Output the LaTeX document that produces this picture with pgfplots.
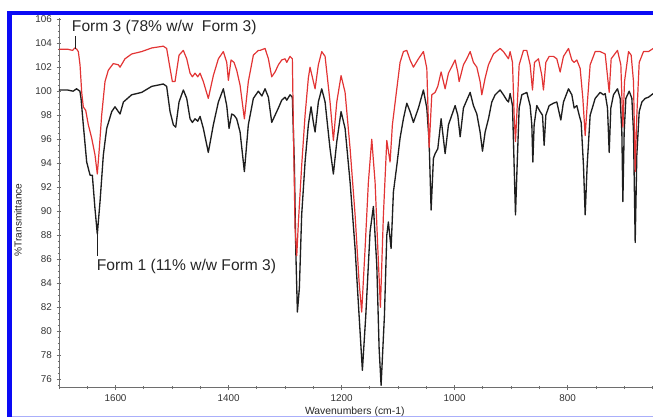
\documentclass[border=0pt]{standalone}
\usepackage{fontspec}
\setmainfont{Liberation Sans}
\usepackage{pgfplots}
\pgfplotsset{compat=1.18}
\usepackage{pgfplotstable}

\definecolor{specblack}{RGB}{30,30,30}
\definecolor{specred}{RGB}{226,52,52}
\definecolor{axisgray}{RGB}{110,110,110}
\definecolor{framblue}{RGB}{10,10,245}
\definecolor{framlight}{RGB}{170,175,250}

% Form 1 (11% w/w Form 3): wavenumber (cm-1), %T
\pgfplotstableread{
w v
1700 100.1
1685 100.1
1675 100.0
1669 100.2
1663 100.0
1661 99.4
1657 97.2
1651 94.1
1645 93.0
1641 93.0
1636.3 90.2
1632.2 88.1
1627.4 90.8
1621.5 94.7
1615.6 96.9
1606.7 98.3
1600.9 98.7
1592 98.1
1586 99.1
1571.4 99.7
1553.7 99.9
1536 100.4
1515.4 100.6
1509.5 100.4
1503.5 98.3
1497.7 97.2
1493.5 97.0
1487.6 99.1
1480 100.1
1474 99.4
1468.1 97.7
1464 97.4
1459.3 97.7
1454.5 97.5
1450.4 97.9
1444.6 96.9
1435.8 94.9
1426.9 97.2
1418 99.1
1409.2 100.2
1403.2 98.8
1399.1 96.9
1394.4 98.1
1390.3 98.0
1385.6 97.7
1379.6 96.6
1372 93.3
1365 97.2
1356.1 99.4
1347.3 100.0
1341 99.6
1335.4 100.2
1329.5 99.5
1323.6 97.4
1317.7 98.0
1311.8 98.6
1305.9 99.25
1300 99.5
1297 99.25
1291.2 99.7
1287.1 99.5
1283.5 93.8
1281.1 86.9
1278.2 81.6
1274.7 83.6
1270.6 89.7
1264.6 94.1
1258.8 97.2
1254 98.7
1249.9 97.4
1246.9 96.6
1241.1 99.1
1235.1 100.2
1229.2 99.1
1220.4 95.2
1214.5 93.1
1208.5 95.8
1200.9 98.3
1193.8 96.9
1184.9 92.4
1176.1 86.9
1169 81.3
1163.2 76.75
1157.2 81.3
1149.6 88.3
1143.7 90.4
1137.7 85.5
1133.6 78.6
1130.1 75.5
1124.2 81.3
1120 88.0
1117.2 89.1
1112.4 86.9
1108.3 91.6
1102.3 93.8
1096.5 96.1
1090.6 97.7
1084.6 99.0
1078.8 98.3
1072.9 97.4
1064 98.6
1055.2 100.1
1049.2 98.6
1045.1 95.8
1041.6 90.1
1037.5 94.4
1034.5 94.8
1029.8 95.2
1023.9 97.7
1016.8 94.8
1010.9 97.2
999.1 98.8
994.4 98.0
990.2 96.2
984.4 98.6
978.5 99.25
972.5 99.9
966.7 98.8
960.7 98.1
954.9 96.6
950.7 95.0
946 96.6
940.1 97.7
934.2 99.1
928.3 99.7
919.5 100.1
913.6 99.7
907.7 99.25
904.7 99.1
901.8 99.8
897.6 98.8
894.7 93.8
892.3 89.7
889.4 93.8
885.8 98.6
881.1 99.7
872.3 99.9
866.4 98.8
863.4 97.2
861.6 94.1
859.3 97.2
854.6 98.8
848.7 98.3
844.5 98.0
841.6 95.5
838.6 98.0
832.7 98.8
825.1 99.0
819.2 99.1
812.1 97.6
807.4 99.1
798.5 100.2
792.6 99.7
788.5 98.6
783.8 98.8
779.6 98.0
776.1 97.4
772 93.8
769 89.7
765.5 93.8
760.2 98.0
751.3 99.4
742.5 99.9
736.6 99.7
733.6 99.8
729.5 98.6
726.5 94.9
723.6 98.6
718.9 99.7
711.8 100.2
707.1 99.4
704.1 96.6
702.3 90.8
700 96.6
697 99.4
691.1 100.0
686.4 99.4
683.5 96.6
680.5 87.4
677.6 94.7
673.4 98.3
668.7 99.1
662.8 99.4
656.9 99.5
648.7 99.8
}\formone

% Form 3 (78% w/w Form 3): wavenumber (cm-1), %T
\pgfplotstableread{
w v
1700 103.5
1685 103.5
1676 103.4
1672 103.6
1668.7 103.5
1665.8 103.3
1662.8 102.2
1659.8 99.9
1657 98.7
1652.7 98.4
1648.1 97.2
1642.2 96.1
1636.3 94.7
1632.2 93.1
1628.7 95.2
1624.5 98.0
1618.6 100.8
1612.7 101.75
1603.9 102.3
1595 102.2
1592 102.0
1583.2 102.7
1571.4 103.1
1553.7 103.3
1536 103.6
1515.4 103.75
1509.5 103.56
1503.5 101.9
1499.4 100.8
1494.7 100.8
1487.6 103.0
1480 103.4
1474 102.7
1468.1 101.5
1464 101.2
1459.3 101.5
1454.5 101.2
1450.4 101.5
1444.6 100.8
1435.8 99.4
1426.9 101.3
1418 102.7
1409.2 103.3
1403.2 102.4
1400.3 100.9
1395.6 102.6
1390.3 102.4
1385.6 101.75
1379.6 100.5
1372 97.7
1365 100.8
1356.1 103.0
1347.3 103.4
1344.2 103.4
1335.4 103.56
1329.5 102.7
1323.6 101.2
1317.7 101.6
1311.8 102.2
1305.9 102.6
1300 102.7
1297 102.4
1291.2 102.9
1287.1 102.7
1284.7 95.2
1282.3 88.6
1279.3 86.3
1276.4 89.1
1270.6 93.8
1264.6 98.0
1258.8 101.1
1255.8 102.0
1249.9 100.8
1246.9 100.2
1241.1 102.2
1235.1 103.3
1229.2 102.9
1220.4 99.1
1214.5 95.9
1208.5 99.1
1200.9 101.3
1193.8 99.9
1184.9 95.2
1176.1 89.7
1169 84.1
1164.4 81.6
1158.4 86.9
1152.6 92.4
1146.6 96.0
1140.7 92.4
1135.9 86.9
1131.3 82.0
1126 89.7
1120 95.9
1114.2 94.1
1110.1 97.2
1102.3 100.2
1096.5 102.4
1090.6 103.3
1084.6 103.4
1078.8 102.6
1072.9 102.0
1064 102.7
1055.2 103.3
1049.2 101.9
1045.1 95.3
1040.4 99.7
1034.5 99.9
1029.8 100.4
1023.9 101.6
1016.8 100.2
1010.9 101.5
999.1 102.6
994.4 101.6
992 100.8
984.4 102.2
978.5 102.7
972.5 103.3
966.7 102.4
960.7 102.0
954.9 100.8
951.9 99.7
946 101.1
940.1 102.2
931.3 103.1
919.5 103.56
913.6 103.3
907.7 102.9
904.7 102.7
901.8 103.3
897.6 102.4
894.7 98.0
892.3 95.8
889.4 98.6
885.8 102.2
878.2 103.4
872.3 103.4
866.4 102.2
862.2 100.1
858.7 102.4
851.6 102.7
845.7 101.3
842.8 100.1
838.6 102.4
832.7 102.9
825.1 102.9
819.2 102.7
813.3 101.6
807.4 102.9
798.5 103.56
792.6 102.6
788.5 102.4
783.8 102.6
777.9 101.9
773.1 99.4
769 96.3
765.5 98.8
760.2 102.2
751.3 103.3
742.5 103.3
733.6 103.1
726.5 99.9
723 102.7
711.8 103.4
705.9 102.2
702.3 97.0
699.4 100.8
692.3 103.3
687.6 103.0
683.5 100.8
680.5 93.3
677.6 98.0
673.4 102.4
665.8 103.3
656.9 103.3
648.7 103.56
}\formthree

\begin{document}
\begin{tikzpicture}[x=0.75pt,y=0.75pt]
\useasboundingbox (-59,-31.3) rectangle (594,387.7);
\begin{axis}[
  at={(0,0)}, anchor=south west,
  scale only axis,
  width=445.5pt, height=277.3pt,
  xmin=649, xmax=1700, x dir=reverse,
  ymin=75.3, ymax=106.1,
  axis x line*=bottom, axis y line*=left,
  axis line style={axisgray, line width=0.6pt},
  xtick={800,1000,1200,1400,1600},
  minor xtick={650,700,...,1700},
  ytick={76,78,...,106},
  minor ytick={75.5,76,...,106},
  tick align=center,
  major tick length=3.5pt,
  minor tick length=2pt,
  every tick/.style={axisgray, line width=0.6pt},
  /pgf/number format/assume math mode=true,
  /pgf/number format/1000 sep={},
  tick label style={font=\fontsize{7.4}{8}\selectfont, text=black!80},
  xlabel={Wavenumbers (cm-1)},
  ylabel={\%Transmittance},
  every axis x label/.style={at={(axis description cs:0.498,-0.066)}, anchor=center, font=\fontsize{7.8}{9}\selectfont, text=black!85},
  every axis y label/.style={at={(axis description cs:-0.069,0.454)}, rotate=90, anchor=center, font=\fontsize{7.6}{9}\selectfont, text=black!85},
]
\addplot[specblack, line width=1pt, line join=round] table[x=w, y=v] {\formone};
\addplot[specred, line width=0.9pt, line join=round] table[x=w, y=v] {\formthree};
% leader lines to the spectrum labels
\draw[specblack, line width=0.7pt] (axis cs:1670.6,103.55) -- (axis cs:1670.6,104.6);
\draw[specblack, line width=0.7pt] (axis cs:1631.6,88.2) -- (axis cs:1631.6,86.3);
\node[anchor=base west, inner sep=0pt, font=\fontsize{11.7}{13}\selectfont, text=black!85]
  at (axis cs:1677.5,104.94) {Form 3 (78\% w/w\ \ Form 3)};
\node[anchor=base west, inner sep=0pt, font=\fontsize{11.7}{13}\selectfont, text=black!85]
  at (axis cs:1633.3,85.08) {Form 1 (11\% w/w Form 3)};
\end{axis}
% page frame
\fill[framblue] (-52,372.7) rectangle (594,376.7);
\fill[framblue] (-52,-29.6) rectangle (-47,376.7);
\fill[framlight] (-47,-29.6) rectangle (594,-28.4);
\end{tikzpicture}
\end{document}
